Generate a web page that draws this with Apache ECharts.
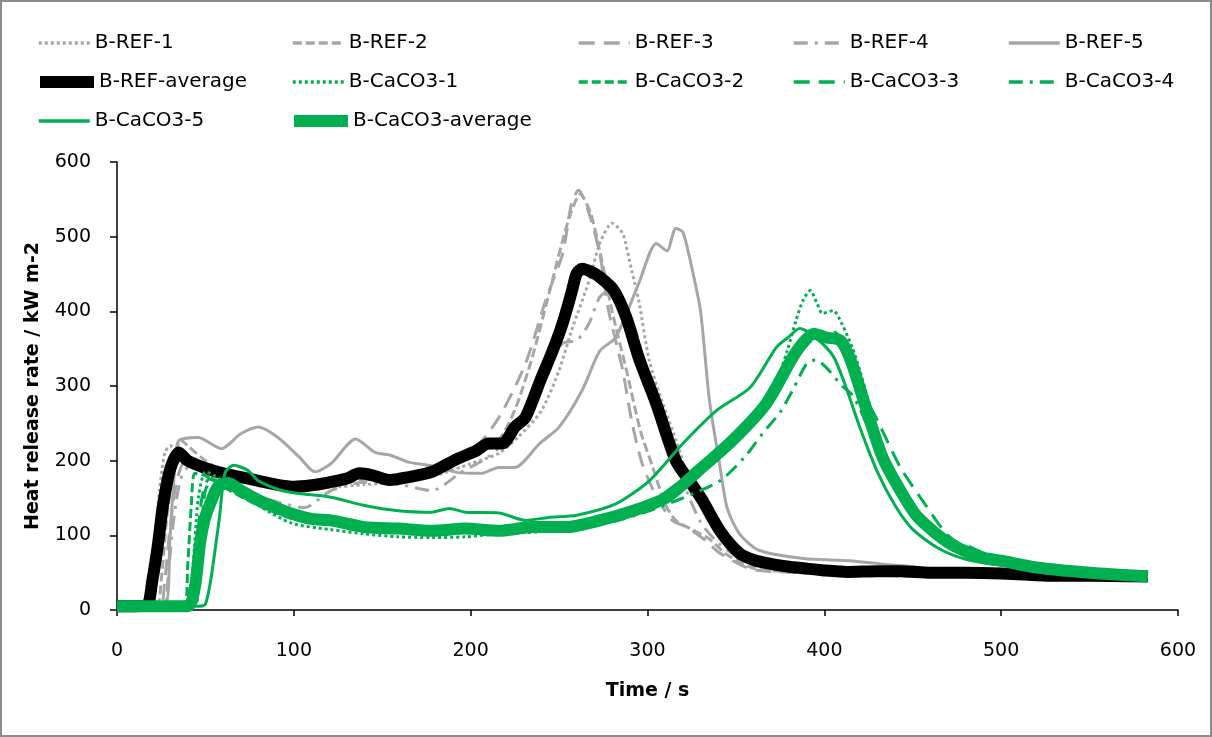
<!DOCTYPE html>
<html>
<head>
<meta charset="utf-8">
<script src="https://cdn.jsdelivr.net/npm/echarts@6/dist/echarts.min.js"></script>
<style>
html, body { margin: 0; padding: 0; background: #fff; }
#frame { position: relative; width: 1212px; height: 737px; }
#charts { width: 1212px; height: 737px; }
#edge { position: absolute; left: 0; top: 0; width: 1212px; height: 737px; box-sizing: border-box; border: 2px solid #8c8c8c; pointer-events: none; }
</style>
</head>
<body>
<div id="frame"><div id="charts"></div><div id="edge"></div></div>
<script>
// time (s), heat release rate (kW m-2)
var ref1 = [[0,5],[15,5],[18,12],[21,80],[24,160],[27,210],[30,220],[35,214],[40,200],[50,186],[60,176],[80,170],[100,163],[120,164],[140,168],[160,171],[180,180],[200,196],[216,210],[227,232],[240,267],[250,321],[257,374],[267,441],[273,491],[280,518],[286,504],[291,455],[295,415],[301,334],[308,281],[316,228],[325,164],[335,120],[345,93],[360,70],[380,60],[410,55],[452,50]];
var ref2 = [[0,5],[22,5],[25,40],[28,120],[32,190],[36,228],[40,220],[50,200],[60,186],[80,176],[100,170],[120,173],[140,180],[160,178],[180,186],[200,205],[215,225],[225,268],[235,340],[245,430],[255,520],[262,557],[268,530],[274,470],[280,400],[288,322],[296,240],[303,191],[310,142],[316,120],[325,108],[335,95],[345,74],[360,56],[380,51],[410,48],[452,45]];
var ref3 = [[0,5],[24,5],[27,40],[30,110],[34,175],[40,205],[50,192],[60,180],[80,168],[100,160],[120,164],[140,175],[160,174],[180,186],[200,210],[216,258],[231,330],[243,419],[252,477],[257,544],[261,562],[267,531],[273,477],[278,401],[286,321],[291,254],[297,196],[305,152],[314,120],[322,111],[333,93],[341,76],[360,54],[400,50],[452,46]];
var ref4 = [[0,5],[26,5],[29,50],[32,120],[36,175],[42,195],[50,185],[60,168],[80,152],[95,142],[106,137],[121,160],[140,171],[160,168],[178,160],[195,185],[210,205],[225,240],[240,310],[252,357],[260,361],[267,384],[273,419],[280,430],[290,395],[300,320],[310,240],[320,172],[330,118],[340,90],[355,66],[380,56],[420,50],[452,46]];
var ref5 = [[0,5],[27,5],[30,100],[33,200],[35,227],[46,231],[59,216],[70,236],[80,245],[91,231],[103,205],[112,185],[121,196],[135,229],[146,211],[155,207],[165,198],[178,193],[193,184],[206,183],[216,191],[225,191],[239,223],[250,245],[263,294],[273,347],[282,365],[295,437],[305,491],[311,481],[316,511],[320,506],[325,459],[330,400],[335,281],[341,192],[345,137],[352,102],[363,80],[388,69],[414,66],[440,60],[452,58]];
var refAvg = [[0,5],[10,5],[17,6],[20,40],[23,85],[26,140],[30,188],[35,211],[40,200],[50,190],[60,183],[70,178],[80,173],[90,168],[100,165],[110,167],[120,171],[130,176],[137,183],[145,180],[154,174],[165,178],[178,185],[193,203],[203,213],[210,223],[218,223],[225,245],[231,258],[240,311],[246,345],[252,384],[257,425],[260,451],[263,457],[268,453],[273,446],[281,428],[288,392],[295,338],[305,276],[316,200],[324,172],[331,147],[341,106],[352,76],[360,67],[369,62],[380,58],[388,56],[400,53],[413,51],[430,52],[443,52],[460,50],[480,50],[500,49],[526,46],[550,46],[583,45]];
var ca1 = [[0,5],[40,5],[43,60],[46,150],[50,185],[55,180],[65,165],[80,140],[99,116],[120,108],[140,102],[159,98],[178,97],[197,98],[216,102],[240,105],[260,110],[280,120],[300,138],[320,165],[340,205],[360,255],[372,300],[379,347],[384,388],[388,415],[392,428],[396,410],[399,397],[405,401],[410,383],[416,350],[420,321],[430,240],[440,175],[450,135],[460,110],[475,85],[490,70],[510,60],[540,52],[583,46]];
var ca2 = [[0,5],[38,5],[40,60],[42,140],[44,183],[50,180],[60,165],[80,140],[100,122],[120,118],[140,110],[160,108],[180,106],[200,108],[220,107],[240,110],[260,112],[280,122],[300,140],[320,168],[340,210],[360,258],[375,310],[385,350],[392,368],[399,360],[406,372],[412,345],[420,290],[430,220],[440,170],[450,130],[460,108],[475,88],[490,72],[510,62],[540,52],[583,46]];
var ca3 = [[0,5],[42,5],[45,80],[48,150],[52,175],[60,170],[80,145],[100,125],[120,120],[140,113],[160,110],[180,108],[200,110],[220,106],[240,112],[260,112],[280,124],[300,142],[320,175],[340,215],[360,262],[375,315],[385,352],[392,365],[400,362],[406,370],[412,352],[420,300],[430,254],[443,191],[458,138],[469,102],[477,88],[483,84],[490,76],[510,62],[540,53],[583,47]];
var ca4 = [[0,5],[44,5],[47,90],[50,160],[55,178],[65,165],[80,145],[100,125],[120,118],[140,112],[160,110],[180,108],[200,107],[220,108],[240,108],[260,110],[280,118],[300,132],[320,150],[341,173],[355,205],[365,236],[375,265],[382,294],[390,330],[395,335],[401,325],[410,300],[415,290],[420,270],[430,215],[440,165],[450,125],[470,88],[490,68],[510,60],[540,52],[583,46]];
var ca5 = [[0,5],[46,5],[50,8],[53,40],[56,90],[58,125],[61,183],[66,194],[74,187],[80,173],[93,160],[103,156],[121,151],[140,140],[159,133],[178,131],[188,136],[197,131],[216,130],[231,120],[244,124],[260,127],[282,142],[301,173],[320,223],[339,267],[358,298],[373,352],[380,366],[386,377],[395,365],[405,340],[412,300],[420,245],[430,185],[440,140],[450,108],[465,82],[480,68],[500,60],[540,50],[583,46]];
var caAvg = [[0,5],[40,5],[44,30],[47,90],[50,125],[54,150],[57,165],[63,170],[70,160],[80,147],[90,137],[99,129],[110,122],[121,120],[140,111],[159,109],[178,106],[197,109],[216,106],[235,111],[254,111],[273,120],[292,133],[311,151],[329,187],[348,227],[367,276],[382,338],[388,358],[394,370],[401,365],[409,361],[415,334],[424,267],[433,204],[443,160],[453,124],[471,89],[490,70],[500,66],[520,57],[550,50],[583,45]];

var names = ['B-REF-1', 'B-REF-2', 'B-REF-3', 'B-REF-4', 'B-REF-5', 'B-REF-average',
    'B-CaCO3-1', 'B-CaCO3-2', 'B-CaCO3-3', 'B-CaCO3-4', 'B-CaCO3-5', 'B-CaCO3-average'];
var seriesData = [ref1, ref2, ref3, ref4, ref5, refAvg, ca1, ca2, ca3, ca4, ca5, caAvg];
var xTicks = [0, 100, 200, 300, 400, 500, 600];
var yTicks = [0, 100, 200, 300, 400, 500, 600];

var GRAY = '#a6a6a6', GREEN = '#00b050';
var FONT = 'DejaVu Sans';

// line styles per series
var dashes = ['dotted', 'dash', 'longdash', 'dashdot', 'solid'];
function dashOf(kind) {
    if (kind === 'dotted') return [3, 3];
    if (kind === 'dash') return [9, 4];
    if (kind === 'longdash') return [16, 9];
    if (kind === 'dashdot') return [14, 7, 3, 7];
    return 'solid';
}

var series = [];
var legends = [];
var colLeft = [37, 291, 577, 792, 1007];
var rowTop = [33, 72, 111];

for (var i = 0; i < names.length; i++) {
    var isAvg = (i === 5 || i === 11);
    var color = i < 5 ? GRAY : (i === 5 ? '#000' : GREEN);
    var type = isAvg ? 'solid' : dashOf(dashes[i < 5 ? i : i - 6]);
    series.push({
        name: names[i],
        type: 'line',
        data: seriesData[i],
        symbol: 'none',
        smooth: 0.25,
        color: color,
        lineStyle: { color: color, width: isAvg ? 12 : 3, type: type, cap: 'butt', join: 'round' },
        z: 2 + i
    });
}

for (var j = 0; j < names.length; j++) {
    var avg = (j === 5 || j === 11);
    legends.push({
        data: [names[j]],
        left: colLeft[j % 5] - (avg ? 3 : 0),
        top: rowTop[Math.floor(j / 5)],
        padding: 0,
        itemWidth: avg ? 54 : 51,
        itemHeight: 14,
        selectedMode: false,
        itemStyle: { opacity: 0, borderWidth: 0 },
        lineStyle: { width: avg ? 12 : 3.5 },
        textStyle: { fontFamily: FONT, fontSize: 20, color: '#000' }
    });
}

var chart = echarts.init(document.getElementById('charts'));
chart.setOption({
    animation: false,
    legend: legends,
    grid: { left: 117, right: 34, top: 162, bottom: 127 },
    xAxis: {
        type: 'value',
        min: xTicks[0],
        max: xTicks[xTicks.length - 1],
        interval: 100,
        name: 'Time / s',
        nameLocation: 'middle',
        nameGap: 72,
        nameTextStyle: { fontFamily: FONT, fontSize: 19, fontWeight: 'bold', color: '#000' },
        axisLine: { lineStyle: { color: '#000', width: 1.5 } },
        axisTick: { show: true, length: 6, lineStyle: { color: '#000', width: 1.5 } },
        axisLabel: { margin: 32, fontFamily: FONT, fontSize: 19, color: '#000' },
        splitLine: { show: false }
    },
    yAxis: {
        type: 'value',
        min: yTicks[0],
        max: yTicks[yTicks.length - 1],
        interval: 100,
        name: 'Heat release rate / kW m-2',
        nameLocation: 'middle',
        nameGap: 74,
        nameTextStyle: { fontFamily: FONT, fontSize: 19, fontWeight: 'bold', color: '#000' },
        axisLine: { show: true, lineStyle: { color: '#000', width: 1.5 } },
        axisTick: { show: true, length: 7, lineStyle: { color: '#000', width: 1.5 } },
        axisLabel: { margin: 26, fontFamily: FONT, fontSize: 19, color: '#000' },
        splitLine: { show: false }
    },
    series: series
});
</script>
</body>
</html>
